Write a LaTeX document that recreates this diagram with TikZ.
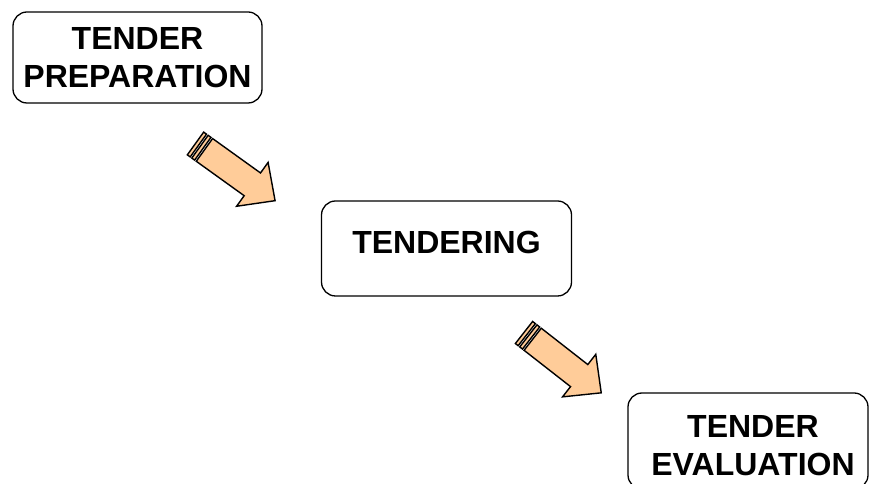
\documentclass[tikz,border=0pt]{standalone}
\usepackage{fontspec}
\setmainfont{Liberation Sans}
\definecolor{peach}{RGB}{255,204,153}
\tikzset{
  stage/.style={draw=black, line width=1.3pt, rounded corners=14pt,
    align=center, inner sep=0pt,
    font=\bfseries\fontsize{32}{38}\selectfont},
  arrowpart/.style={draw=black, line width=1.4pt, fill=peach, line join=miter},
  % striped block arrow pointing along +x, tail at the origin
  pics/stripedarrow/.style={code={
    \path[arrowpart] (0,-14) rectangle (3.5,14);
    \path[arrowpart] (5.5,-14) rectangle (9,14);
    \path[arrowpart] (11,-14) -- (70,-14) -- (70,-27) -- (98,0)
      -- (70,27) -- (70,14) -- (11,14) -- cycle;
  }}
}
\begin{document}
\begin{tikzpicture}[x=1pt,y=1pt]
  \clip (0,0) rectangle (870,484);

  \node[stage, minimum width=249pt, minimum height=91pt] (prep)
    at (137.5,426.5) {TENDER\\PREPARATION};
  \node[stage, minimum width=250pt, minimum height=95pt, text depth=12pt] (tendering)
    at (446.5,235.5) {TENDERING};
  \node[stage, minimum width=240pt, minimum height=96pt, text height=69pt] (eval)
    at (748,43) {\hspace*{10pt}TENDER\\\hspace*{10pt}EVALUATION};

  \pic[rotate=-35.7] (arrowA) at (195.5,340.5) {stripedarrow};
  \pic[rotate=-38] (arrowB) at (524,151.5) {stripedarrow};
\end{tikzpicture}
\end{document}
